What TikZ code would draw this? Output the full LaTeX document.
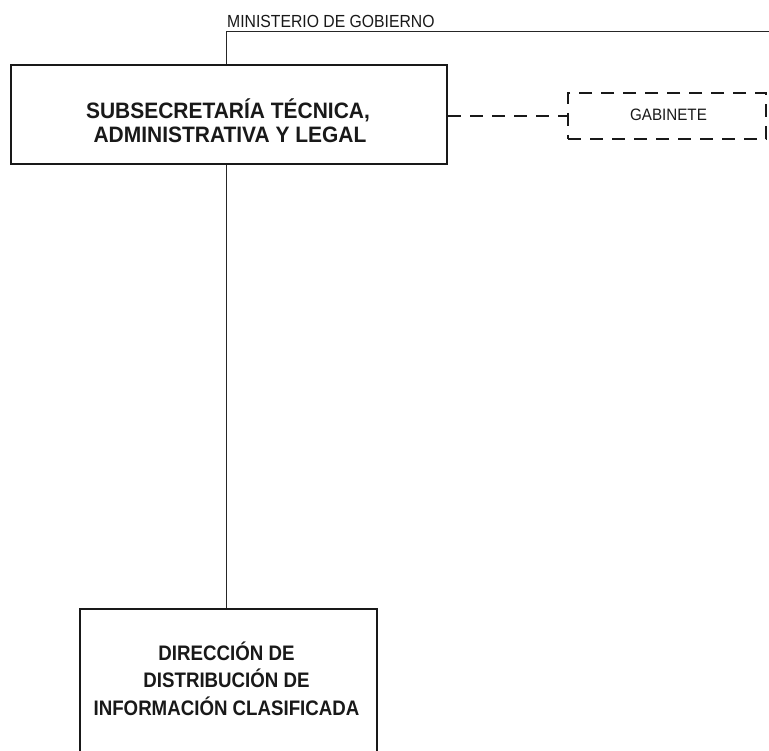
\documentclass[tikz,border=0pt]{standalone}
\usepackage{fontspec}
\setmainfont{Liberation Sans}
\newcommand{\hsq}[2]{\scalebox{#1}[1]{#2}}
\begin{document}
\begin{tikzpicture}[x=1pt,y=-1pt,
  unitbox/.style={draw=black!90, line width=2pt, inner sep=0pt},
  gabbox/.style={draw=black!90, line width=2pt, inner sep=0pt, dash pattern=on 13pt off 9pt},
  conn/.style={draw=black!85, line width=1pt},
  dconn/.style={draw=black!90, line width=2pt, dash pattern=on 13pt off 9pt},
  subline/.style={anchor=base, inner sep=0pt, font=\bfseries\fontsize{22.3}{24}\selectfont, text=black!90},
  dirline/.style={anchor=base, inner sep=0pt, font=\bfseries\fontsize{21}{24}\selectfont, text=black!90},
  smalltxt/.style={anchor=base, inner sep=0pt, text=black!90}
]
\clip (0,0) rectangle (769,751);
\fill[white] (0,0) rectangle (769,751);
% Ministerio line
\coordinate (min) at (226,32);
\coordinate (minR) at (775,32);
\node[smalltxt, anchor=base west, font=\fontsize{17.5}{20}\selectfont] (mint) at (227,28) {\hsq{0.9}{MINISTERIO DE GOBIERNO}};
% boxes
\node[unitbox, minimum width=436pt, minimum height=99pt] (sub) at (229,114.5) {};
\node[subline] (subt1) at (228,118.5) {\hsq{0.94}{SUBSECRETARÍA TÉCNICA,}};
\node[subline] (subt2) at (230,142.7) {\hsq{0.94}{ADMINISTRATIVA Y LEGAL}};
\node[gabbox, minimum width=198pt, minimum height=46pt] (gab) at (667,116) {};
\node[smalltxt, font=\fontsize{16.5}{19}\selectfont] (gabt) at (668.5,120.5) {\hsq{0.92}{GABINETE}};
\node[unitbox, minimum width=297pt, minimum height=200pt] (dir) at (228.5,709) {};
\node[dirline] (dirt1) at (226.5,660) {\hsq{0.89}{DIRECCIÓN DE}};
\node[dirline] (dirt2) at (226.5,687.5) {\hsq{0.89}{DISTRIBUCIÓN DE}};
\node[dirline] (dirt3) at (226.5,715) {\hsq{0.89}{INFORMACIÓN CLASIFICADA}};
% connectors
\draw[conn] (minR) -- (min) -- (min |- sub.north);
\draw[conn] (min |- sub.south) -- (min |- dir.north);
\draw[dconn] (sub.east |- gab.west) -- (gab.west);
\end{tikzpicture}
\end{document}
